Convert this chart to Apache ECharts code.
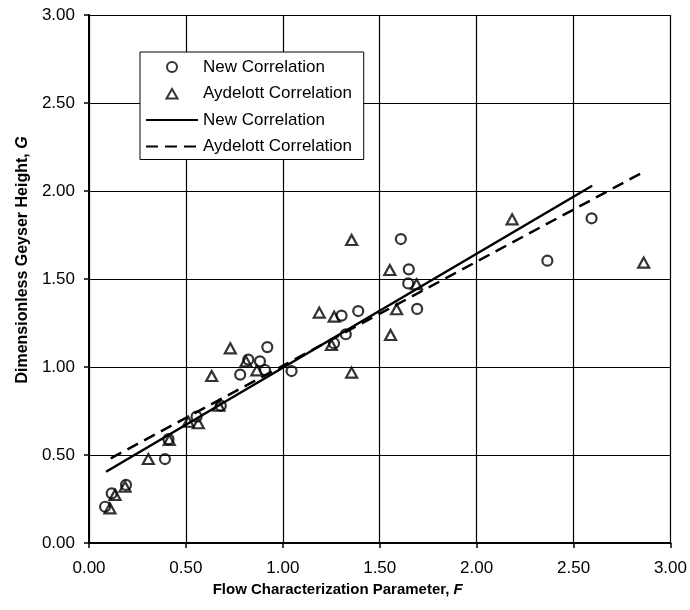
<!DOCTYPE html>
<html>
<head>
<meta charset="utf-8">
<script src="https://cdn.jsdelivr.net/npm/echarts@6/dist/echarts.min.js"></script>
<style>
  html, body { margin: 0; padding: 0; background: #fff; }
  #main { width: 690px; height: 610px; }
</style>
</head>
<body>
<div id="main"></div>
<script>
// measured points, F (x) vs G (y)
var newF = [0.083, 0.117, 0.191, 0.392, 0.41, 0.555, 0.68, 0.78, 0.822, 0.882, 0.908, 0.92, 1.045, 1.264, 1.303, 1.325, 1.389, 1.609, 1.65, 1.647, 1.693, 2.365, 2.593];
var newG = [0.206, 0.282, 0.33, 0.477, 0.59, 0.718, 0.78, 0.957, 1.042, 1.032, 0.983, 1.113, 0.977, 1.135, 1.292, 1.186, 1.318, 1.727, 1.555, 1.475, 1.33, 1.604, 1.845];

var aydF = [0.108, 0.134, 0.186, 0.306, 0.414, 0.512, 0.564, 0.633, 0.67, 0.729, 0.81, 0.866, 1.188, 1.251, 1.265, 1.355, 1.355, 1.552, 1.556, 1.587, 1.69, 2.183, 2.862];
var aydG = [0.197, 0.273, 0.32, 0.477, 0.585, 0.689, 0.68, 0.949, 0.78, 1.106, 1.032, 0.981, 1.309, 1.125, 1.286, 1.722, 0.968, 1.551, 1.182, 1.328, 1.47, 1.839, 1.593];

// correlation lines (end points)
var newLineF = [0.088, 2.596];
var newLineG = [0.405, 2.03];
var aydLineF = [0.112, 2.847];
var aydLineG = [0.481, 2.10];

function pairs(xs, ys) {
  var out = [];
  for (var i = 0; i < xs.length; i++) out.push([xs[i], ys[i]]);
  return out;
}

var font = "'Liberation Sans', Arial, sans-serif";
// triangle centred in a 52x10 box so the legend does not stretch it
var triIcon = 'path://M0,0M52,10M20.5,10L26,0.5L31.5,10Z';

var myChart = echarts.init(document.getElementById('main'));

var option = {
  backgroundColor: '#fff',
  animation: false,
  grid: { left: 89, right: 19, top: 15, bottom: 67 },
  legend: {
    orient: 'vertical',
    left: 140,
    top: 52,
    padding: [6, 7, 4, 5],
    itemGap: 8.5,
    itemWidth: 52,
    itemHeight: 10,
    borderColor: '#000',
    borderWidth: 1,
    backgroundColor: '#fff',
    selectedMode: false,
    textStyle: { fontFamily: font, fontSize: 17, color: '#000', lineHeight: 18 },
    data: [
      { name: 'New Correlation', icon: 'circle' },
      { name: 'Aydelott Correlation', icon: triIcon },
      { name: 'New Correlation ', itemStyle: { opacity: 0 } },
      { name: 'Aydelott Correlation ', itemStyle: { opacity: 0 } }
    ]
  },
  xAxis: {
    type: 'value',
    min: 0, max: 3, interval: 0.5,
    name: 'Flow Characterization Parameter, {i|F}',
    nameLocation: 'middle',
    nameGap: 38,
    nameTextStyle: {
      fontFamily: font, fontSize: 15, fontWeight: 'bold', color: '#000',
      padding: [0, 84, 0, 0],
      rich: { i: { fontFamily: font, fontSize: 15, fontWeight: 'bold', fontStyle: 'italic', color: '#000' } }
    },
    axisLine: { lineStyle: { color: '#000', width: 2 } },
    axisTick: { show: true, length: 5, lineStyle: { color: '#000', width: 1.5 } },
    axisLabel: { fontFamily: font, fontSize: 17, color: '#000', margin: 17,
      formatter: function (v) { return v.toFixed(2); } },
    splitLine: { show: true, lineStyle: { color: '#000', width: 1.2 } }
  },
  yAxis: {
    type: 'value',
    min: 0, max: 3, interval: 0.5,
    name: 'Dimensionless Geyser Height, {i|G}',
    nameLocation: 'middle',
    nameGap: 53,
    nameTextStyle: {
      fontFamily: font, fontSize: 16, fontWeight: 'bold', color: '#000',
      padding: [0, 0, 0, 38],
      rich: { i: { fontFamily: font, fontSize: 16, fontWeight: 'bold', fontStyle: 'italic', color: '#000' } }
    },
    axisLine: { show: true, lineStyle: { color: '#000', width: 2 } },
    axisTick: { show: true, length: 5, lineStyle: { color: '#000', width: 1.5 } },
    axisLabel: { fontFamily: font, fontSize: 17, color: '#000', margin: 14,
      formatter: function (v) { return v.toFixed(2); } },
    splitLine: { show: true, lineStyle: { color: '#000', width: 1.2 } }
  },
  series: [{
    name: 'New Correlation',
    type: 'scatter',
    symbol: 'circle',
    symbolSize: 10,
    itemStyle: { color: 'rgba(255,255,255,0)', borderColor: '#000', borderWidth: 2.2 },
    data: pairs(newF, newG),
    z: 3
  }, {
    name: 'Aydelott Correlation',
    type: 'scatter',
    symbol: 'triangle',
    symbolSize: [11, 10],
    itemStyle: { color: 'rgba(255,255,255,0)', borderColor: '#000', borderWidth: 2.2 },
    data: pairs(aydF, aydG),
    z: 3
  }, {
    name: 'New Correlation ',
    type: 'line',
    symbol: 'none',
    itemStyle: { color: '#000', opacity: 0 },
    lineStyle: { color: '#000', width: 2.5 },
    data: pairs(newLineF, newLineG),
    z: 4
  }, {
    name: 'Aydelott Correlation ',
    type: 'line',
    symbol: 'none',
    itemStyle: { color: '#000', opacity: 0 },
    lineStyle: { color: '#000', width: 2.5, type: [12, 7] },
    data: pairs(aydLineF, aydLineG),
    z: 4
  }]
};

myChart.setOption(option);
</script>
</body>
</html>
